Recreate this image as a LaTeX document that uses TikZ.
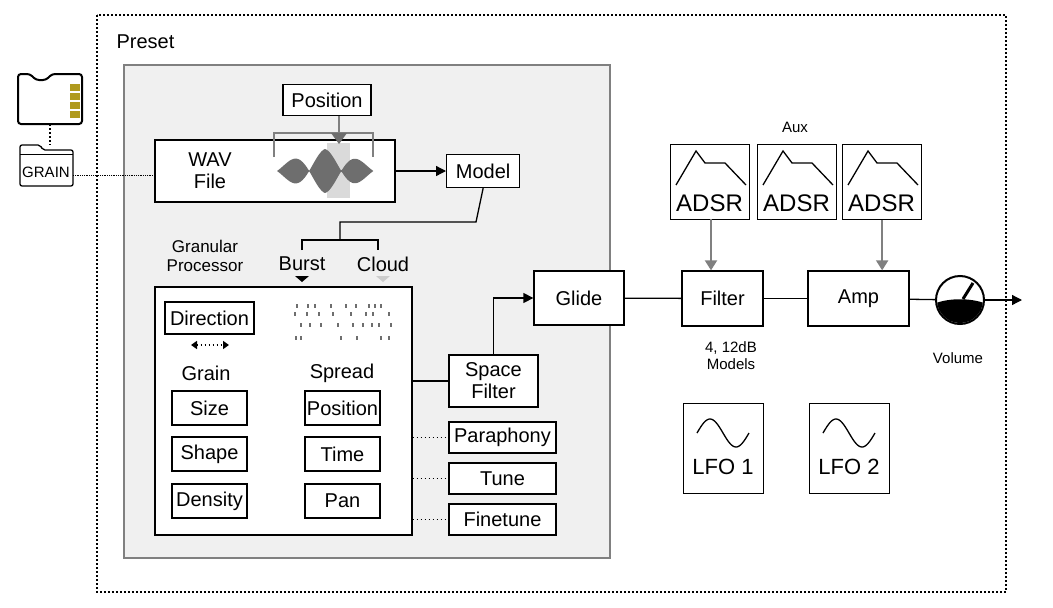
\documentclass[tikz,border=0pt]{standalone}
\usepackage{fontspec}
\setmainfont{Liberation Sans}
\usetikzlibrary{arrows.meta}
\definecolor{panel}{HTML}{F0F0F0}
\definecolor{wave}{HTML}{6E6E6E}
\definecolor{gold}{HTML}{B09A1E}
\tikzset{
  ln/.style={line width=1.3pt},
  box/.style={draw, ln, fill=white, inner sep=1pt, font=\fontsize{20}{22}\selectfont},
  lbl/.style={font=\fontsize{20}{22}\selectfont, align=center},
  small/.style={font=\fontsize{15}{17}\selectfont, align=center},
  dots/.style={line width=1.6pt, dash pattern=on 1.6pt off 2.4pt},
  flow/.style={ln, -{Triangle[length=10pt,width=10pt]}},
  cv/.style={draw=gray, line width=2pt, -{Triangle[length=10pt,width=12pt]}}
}
\begin{document}
\begin{tikzpicture}[x=1pt, y=-1pt]
  \useasboundingbox (0,0) rectangle (1053,608);
  % preset frame and panel
  \draw[dots] (97,15) rectangle (1006,592);
  \node[lbl, anchor=west] (preset) at (113,42) {Preset};
  \draw[gray, ln, fill=panel] (124,65) rectangle (610,558);

  % sd card and folder
  \draw[line width=2pt, rounded corners=3pt] (18,124) -- (18,74) -- (30,74) -- (36,80) -- (46,80) -- (52,74) -- (82,74) -- (82,124) -- cycle;
  \foreach \y in {84,93,102,111} {
    \fill[gold] (70,\y) rectangle (80,\y+7);
  }
  \coordinate (card) at (50,124);
  \draw[ln, rounded corners=2pt] (20,186) -- (20,145) -- (40,145) -- (43,150) -- (73,150) -- (73,186) -- cycle;
  \draw (20,154) -- (73,154);
  \node[small, inner sep=1pt] (grain) at (46,172) {GRAIN};
  \draw[dots] (card) -- (50,145);
  \draw[densely dotted, thick] (73,175) -- (155,175);

  % sample
  \node[box, minimum width=240pt, minimum height=62pt] (wav) at (275,171) {};
  \node[lbl] (wavtxt) at (210,171) {WAV\\File};
  \fill[panel!80!gray] (327,143) rectangle (350,198);
  \fill[wave] plot[domain=277:373, samples=90] (\x,{171-22*abs(sin((\x-277)*5.6))*(1-abs(\x-325)/70)})
    -- plot[domain=373:277, samples=90] (\x,{171+22*abs(sin((\x-277)*5.6))*(1-abs(\x-325)/70)}) -- cycle;
  \draw[gray, line width=2pt] (274,157) -- (274,133) -- (373,133) -- (373,157);
  \node[box, minimum width=88pt, minimum height=31pt] (pos) at (327,100) {Position};
  \fill[wave] (331,133) -- (347,133) -- (339,144) -- cycle;
  \draw[gray, line width=2pt] (339,116) -- (339,133);
  \draw[flow] (395,171) -- (446,171);
  \node[box, minimum width=73pt, minimum height=33pt, anchor=west] (model) at (446,171) {Model};

  % granular processor
  \draw[ln] (model.south) -- (476,222) -- (340,222) -- (340,240);
  \draw[ln] (302,250) -- (302,240) -- (378,240) -- (378,250);
  \node[lbl, font=\fontsize{17}{19}\selectfont] (gran) at (205,256) {Granular\\Processor};
  \node[lbl] (burst) at (302,264) {Burst};
  \node[lbl] (cloud) at (383,264) {Cloud};
  \fill (295,276) -- (309,276) -- (302,282) -- cycle;
  \fill[gray!40] (376,276) -- (390,276) -- (383,282) -- cycle;
  \node[draw, ln, fill=white, minimum width=257pt, minimum height=248pt] (gp) at (283.5,411) {};
  \node[box, minimum width=89pt, minimum height=32pt] (dir) at (209.5,318) {Direction};
  \draw[dots, {Triangle[length=6pt,width=8pt]}-{Triangle[length=6pt,width=8pt]}] (191,345) -- (229,345);
  \foreach \x/\y in {296/304,307/304,314/304,330/304,345/304,355/304,368/304,374/304,380/304,
                     294/312,306/312,318/312,332/312,350/312,365/312,372/312,388/312,
                     300/323,309/323,320/323,337/323,352/323,362/323,371/323,378/323,390/323,
                     295/336,300/336,340/336,356/336,380/336,388/336} {
    \fill[wave] (\x,\y) rectangle (\x+1.5,\y+4);
  }
  \node[lbl] (grainlbl) at (206,373) {Grain};
  \node[lbl] (spread) at (342,373) {Spread};
  \foreach \n/\t/\y in {size/Size/408,shape/Shape/454,dens/Density/501} {
    \node[box, minimum width=75pt, minimum height=34pt] (\n) at (209.5,\y) {\t};
  }
  \foreach \n/\t/\y in {spos/Position/408,time/Time/454,pan/Pan/501} {
    \node[box, minimum width=75pt, minimum height=34pt] (\n) at (342.5,\y) {\t};
  }

  % space filter and pitch
  \node[box, minimum width=89pt, minimum height=52pt, lbl] (space) at (493.5,381) {Space\\Filter};
  \draw[ln] (gp.east |- space) -- (space.west);
  \foreach \n/\t/\y in {para/Paraphony/437.5,tune/Tune/478.5,fine/Finetune/519.5} {
    \node[box, minimum width=107pt, minimum height=31pt] (\n) at (502.5,\y) {\t};
    \draw[dots] (gp.east |- \n) -- (\n.west);
  }
  \node[box, minimum width=90pt, minimum height=54pt] (glide) at (579,298) {Glide};
  \draw[flow] (space.north) |- (glide.west);

  % output chain
  \node[box, minimum width=81pt, minimum height=55pt] (filter) at (722.5,298.5) {Filter};
  \node[box, minimum width=101pt, minimum height=55pt] (amp) at (858.5,298.5) {Amp};
  \draw[ln] (glide) -- (filter);
  \draw[ln] (filter) -- (amp);
  \node[small] (models) at (731,356) {4, 12dB\\Models};
  \node[draw, line width=2pt, circle, fill=white, minimum size=48pt, inner sep=0pt] (vol) at (960,300) {};
  \begin{scope}
    \clip (960,300) circle (23pt);
    \fill (936,303) .. controls (950,298) and (970,298) .. (984,303) -- (984,326) -- (936,326) -- cycle;
  \end{scope}
  \draw[line width=3pt] (963,299) -- (973,283);
  \draw[ln] (amp) -- (vol);
  \coordinate (out) at (1022,300);
  \draw[flow] (vol) -- (out);
  \node[small] (vollbl) at (958,358) {Volume};

  % envelopes
  \node[small] (aux) at (795,127) {Aux};
  \foreach \n/\x in {env1/670,env2/757,env3/842} {
    \node[draw, ln, fill=white, minimum width=79pt, minimum height=75pt, anchor=north west] (\n) at (\x,144) {};
    \draw[ln] (\x+6,185) -- (\x+26,151) -- (\x+35,163) -- (\x+55,163) -- (\x+76,185);
    \node[lbl, font=\fontsize{24}{26}\selectfont] at (\x+39.5,203) {ADSR};
  }
  \draw[cv] (711,219) -- (filter.north -| 711,0);
  \draw[cv] (env3.south) -- (env3.south |- amp.north);

  % lfos
  \foreach \n/\px/\t in {lfo1/683/LFO 1,lfo2/809/LFO 2} {
    \node[draw, ln, fill=white, minimum width=80pt, minimum height=90pt, anchor=north west] (\n) at (\px,403) {};
    \draw[ln, domain=0:360, samples=40] plot ({\px+14+\x/360*52},{433-14*sin(\x)});
    \node[lbl, font=\fontsize{22}{24}\selectfont] at (\px+40,467) {\t};
  }
\end{tikzpicture}
\end{document}
